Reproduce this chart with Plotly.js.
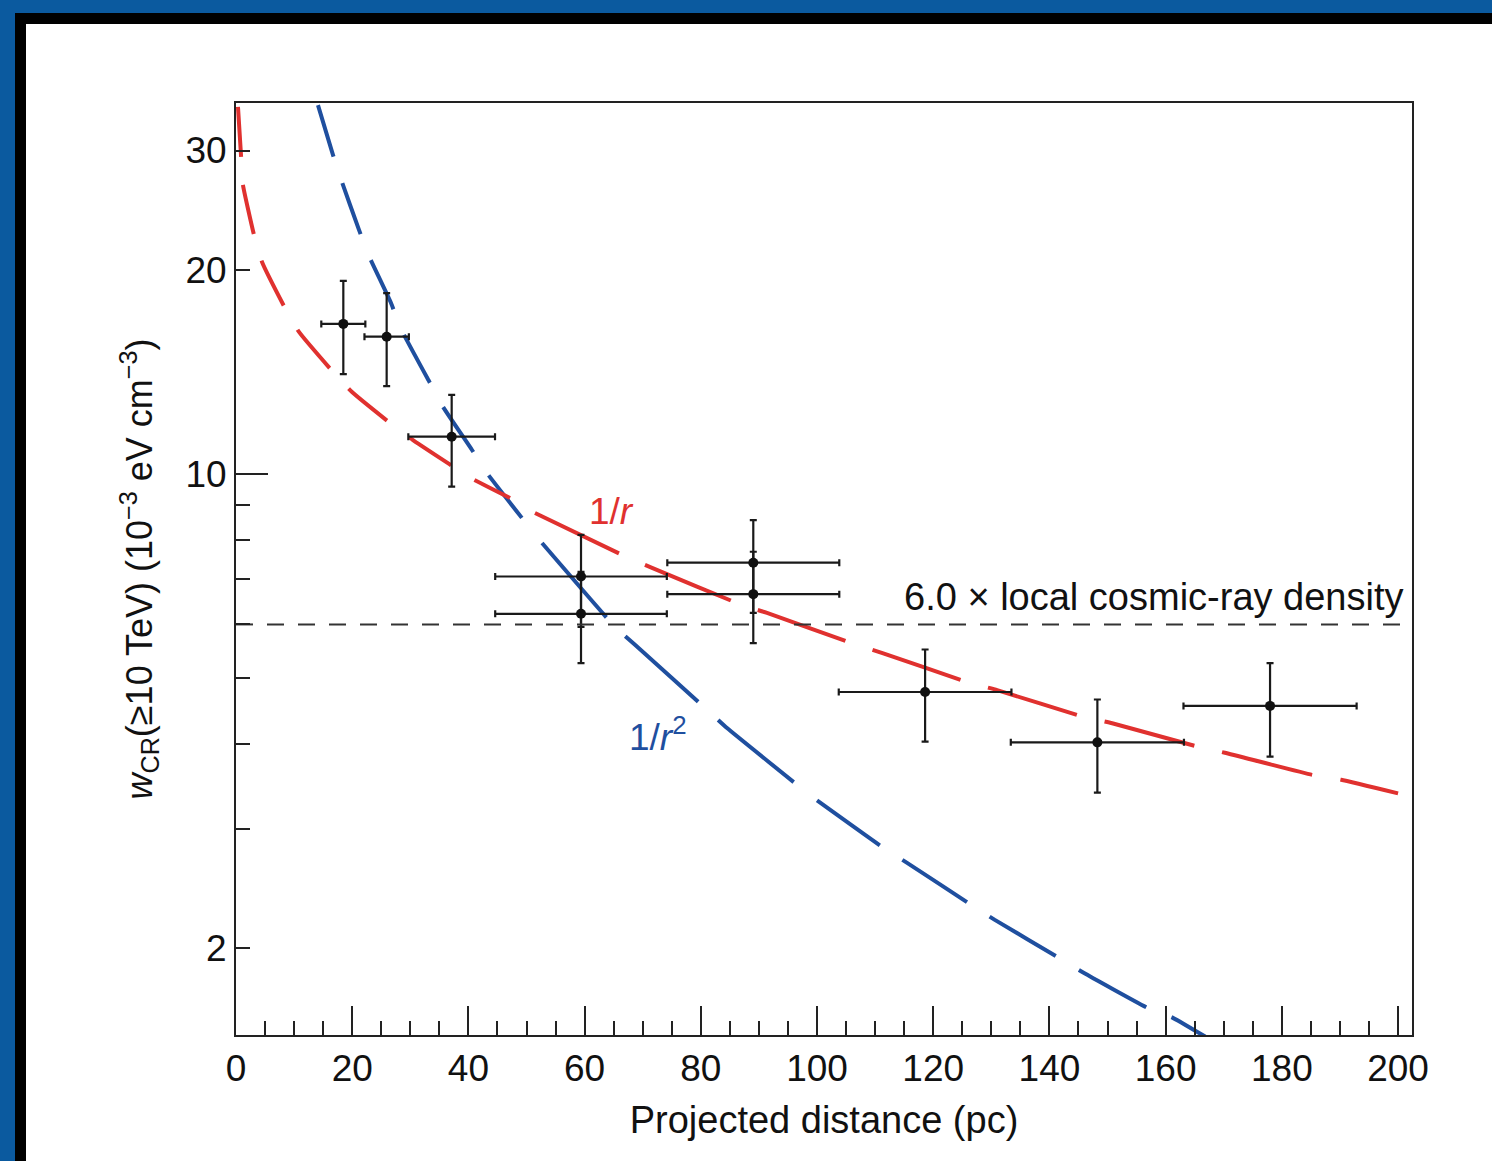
<!DOCTYPE html>
<html>
<head>
<meta charset="utf-8">
<script src="https://cdn.plot.ly/plotly-3.0.1.min.js"></script>
<style>
  html, body { margin:0; padding:0; width:1492px; height:1161px; overflow:hidden; background:#0b5a9f; }
  #frame { position:absolute; left:15px; top:13px; width:1477px; height:1148px; background:#000; }
  #chart { position:absolute; left:26px; top:24px; width:1466px; height:1137px; background:#fff; }
</style>
</head>
<body>
<div id="frame"></div>
<div id="chart"></div>
<script>
// ---- data ----
const distX    = [18.47, 25.93, 37.12, 59.38, 59.38, 89.03, 89.03, 118.6, 148.25, 177.97];
const distXErr = [3.79, 3.82, 7.46, 14.77, 14.77, 14.8, 14.8, 14.86, 14.9, 14.9];
const wCR      = [16.65, 15.94, 11.35, 7.06, 6.22, 7.40, 6.65, 4.77, 4.02, 4.55];
const wErrUp   = [2.62, 2.54, 1.73, 1.07, 0.95, 1.15, 1.03, 0.74, 0.63, 0.71];
const wErrDown = [2.61, 2.46, 1.77, 1.11, 0.96, 1.16, 1.02, 0.74, 0.63, 0.72];

const redX = [0.34, 0.86, 1.20, 3.10, 4.48, 8.43, 10.84, 16.70, 19.97, 26.51, 30.46, 37.69, 39.41, 47.16,
              51.46, 67.30, 71.60, 87.09, 91.39, 106.5, 111.4, 126.3, 131.0, 146.0, 150.8, 165.6, 170.2, 185.2, 190.2, 200.0];
const redY = [34.78, 29.54, 26.69, 22.52, 20.54, 17.57, 16.20, 14.14, 13.21, 11.89, 11.22, 10.21, 9.97, 9.22,
              8.76, 7.54, 7.27, 6.41, 6.24, 5.61, 5.44, 4.92, 4.80, 4.38, 4.29, 3.96, 3.88, 3.60, 3.54, 3.38];

const blueX = [14.11, 16.70, 18.24, 21.17, 22.89, 26.68, 28.40, 33.39, 35.63, 40.62, 43.20, 49.74,
               52.67, 65.23, 68.67, 81.07, 84.51, 96.21,
               100.0, 111.4, 115.5, 126.7, 130.6, 141.8, 145.8, 157.0, 161.1, 166.8];
const blueY = [35.0, 29.54, 26.96, 22.91, 20.96, 17.87, 16.36, 13.62, 12.56, 10.85, 10.03, 8.50,
               7.91, 5.95, 5.60, 4.49, 4.22, 3.50,
               3.30, 2.81, 2.67, 2.31, 2.20, 1.93, 1.84, 1.63, 1.58, 1.48];

const localLevel = [6.0];              // 6.0 x local cosmic-ray density
const refSpanX   = [0, 201.5];

const xTickVals  = [0, 20, 40, 60, 80, 100, 120, 140, 160, 180, 200];
const yTickVals  = [2, 10, 20, 30];
const yTickText  = ['2', '10', '20', '30'];
const yMinorVals = [3, 4, 5, 6, 7, 8, 9];
const yMajorVals = [10];

// ---- helpers ----
function slice(xs, ys, lo, hi) {
  const ox = [], oy = [];
  for (let i = 0; i < xs.length; i++) if (xs[i] >= lo && xs[i] <= hi) { ox.push(xs[i]); oy.push(ys[i]); }
  return {x: ox, y: oy};
}
const RED = '#e0312f', BLUE = '#1f4f9f', INK = '#222';
const FONT = '"Liberation Sans", Arial, Helvetica, sans-serif';

const rA = slice(redX, redY, 0, 48), rB = slice(redX, redY, 51, 201);
const bA = slice(blueX, blueY, 0, 50), bB = slice(blueX, blueY, 52, 97), bC = slice(blueX, blueY, 99, 201);

function curve(seg, color, dash) {
  return {x: seg.x, y: seg.y, type: 'scatter', mode: 'lines', hoverinfo: 'skip',
          line: {color: color, width: 4, dash: dash, shape: 'spline', smoothing: 0.4}};
}

const traces = [
  {x: refSpanX, y: [localLevel[0], localLevel[0]], type: 'scatter', mode: 'lines', yaxis: 'y2',
   line: {color: '#333', width: 2, dash: '17px,14px'}, hoverinfo: 'skip'},
  curve(bA, BLUE, '54px,28px'),
  curve(bB, BLUE, '98px,27px'),
  curve(bC, BLUE, '77px,27px'),
  curve(rA, RED, '50px,28px'),
  curve(rB, RED, '93px,28.5px'),
  {x: distX, y: wCR, type: 'scatter', mode: 'markers',
   marker: {color: '#111', size: 10},
   error_x: {type: 'data', array: distXErr, symmetric: true, color: '#1a1a1a', thickness: 2.2, width: 3.5},
   error_y: {type: 'data', array: wErrUp, arrayminus: wErrDown, symmetric: false, color: '#1a1a1a', thickness: 2.2, width: 3.5}}
];

const yRange = [0.1726, 1.5472];

const layout = {
  width: 1466, height: 1137,
  margin: {l: 210, r: 80, t: 79, b: 126},
  paper_bgcolor: '#fff', plot_bgcolor: '#fff',
  showlegend: false,
  font: {family: FONT, size: 36, color: '#111'},
  xaxis: {
    range: [0, 202.4], tickmode: 'array', tickvals: xTickVals,
    ticks: 'inside', ticklen: 29, tickwidth: 2, tickcolor: INK,
    minor: {tickmode: 'linear', tick0: 0, dtick: 5, ticks: 'inside', ticklen: 14, tickwidth: 2, tickcolor: INK, showgrid: false},
    showline: true, mirror: true, linecolor: INK, linewidth: 2,
    showgrid: false, zeroline: false,
    tickfont: {family: FONT, size: 37, color: '#111'},
    title: {text: 'Projected distance (pc)', font: {family: FONT, size: 38, color: '#111'}, standoff: 18},
    automargin: false
  },
  yaxis: {
    type: 'log', range: yRange, tickmode: 'array', tickvals: yTickVals, ticktext: yTickText,
    ticks: 'inside', ticklen: 14, tickwidth: 2, tickcolor: INK,
    minor: {tickmode: 'array', tickvals: yMinorVals, ticks: 'inside', ticklen: 14, tickwidth: 2, tickcolor: INK, showgrid: false},
    showline: true, mirror: true, linecolor: INK, linewidth: 2,
    showgrid: false, zeroline: false,
    tickfont: {family: FONT, size: 37, color: '#111'},
    title: {text: '<i>w</i><sub>CR</sub>(≥10 TeV) (10<sup>−3</sup> eV cm<sup>−3</sup>)',
            font: {family: FONT, size: 36, color: '#111'}, standoff: 22},
    automargin: false
  },
  yaxis2: {
    type: 'log', range: yRange, overlaying: 'y', anchor: 'x', side: 'left',
    tickmode: 'array', tickvals: yMajorVals, showticklabels: false,
    ticks: 'inside', ticklen: 32, tickwidth: 2, tickcolor: INK,
    showline: false, showgrid: false, zeroline: false
  },
  annotations: [
    {xref: 'paper', yref: 'paper', x: 0.994, y: 0.470, xanchor: 'right', yanchor: 'middle',
     text: '6.0 × local cosmic-ray density', showarrow: false, font: {family: FONT, size: 38, color: '#111'}},
    {xref: 'paper', yref: 'paper', x: 0.3189, y: 0.5612, xanchor: 'center', yanchor: 'middle',
     text: '1/<i>r</i>', showarrow: false, font: {family: FONT, size: 37, color: RED}},
    {xref: 'paper', yref: 'paper', x: 0.3588, y: 0.322, xanchor: 'center', yanchor: 'middle',
     text: '1/<i>r</i><sup>2</sup>', showarrow: false, font: {family: FONT, size: 37, color: BLUE}}
  ]
};

Plotly.newPlot('chart', traces, layout, {displayModeBar: false, staticPlot: true});
</script>
</body>
</html>
